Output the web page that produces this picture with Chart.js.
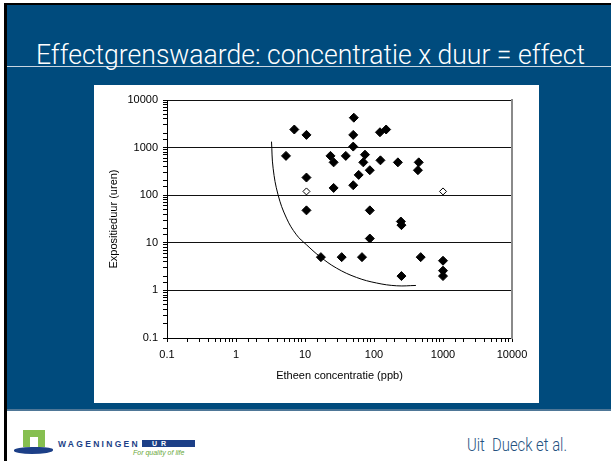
<!DOCTYPE html>
<html>
<head>
<meta charset="utf-8">
<script src="https://cdn.jsdelivr.net/npm/chart.js@4/dist/chart.umd.min.js"></script>
<style>
  html, body { margin: 0; padding: 0; width: 611px; height: 461px; overflow: hidden; background: #fff;
               font-family: "Liberation Sans", Arial, sans-serif; }
  .abs { position: absolute; }
  #frameTop  { left: 4px; top: 3px; width: 607px; height: 2px; background: #000; }
  #frameLeft { left: 4px; top: 3px; width: 3px; height: 458px; background: #000; }
  #slide { left: 7px; top: 5px; width: 604px; height: 405px; background: #004b7d; }
  #sep   { left: 7px; top: 409px; width: 604px; height: 2px; background: #4f7797; }
  #rule  { left: 7px; top: 66px; width: 604px; height: 1px; background: #c8d5e1; }
  #title { left: 36px; top: 41px; font-size: 28px; line-height: 28px; color: #fff; white-space: nowrap;
           transform-origin: 0 0; font-weight: 300;
           font-family: Roboto, "DejaVu Sans Condensed", "Liberation Sans", sans-serif; }
  #box   { left: 94px; top: 85px; width: 445px; height: 318px; background: #fff; }
  #source { left: 467px; top: 435px; font-size: 19px; line-height: 19px; color: #24527f; white-space: nowrap;
            transform-origin: 0 0; font-weight: 300;
            font-family: Roboto, "DejaVu Sans Condensed", "Liberation Sans", sans-serif; }
  /* logo */
  #sq    { left: 23px; top: 430px; width: 22px; height: 17px; background: #86bf50; }
  #door  { left: 30px; top: 437px; width: 8px; height: 10px; background: #fff; }
  #wave  { left: 14px; top: 447px; width: 39px; height: 7px; background: #1c3f87; border-radius: 50% 40% 60% 50%; }
  #wag   { left: 58px; top: 439px; font-size: 8.5px; font-weight: bold; letter-spacing: 2.3px; color: #1c3f87; }
  #ur    { left: 142px; top: 440px; width: 53px; height: 7px; background: #1c3f87; color: #fff; font-size: 7px;
           line-height: 7px; font-weight: bold; letter-spacing: 4px; text-indent: 10px; }
  #fql   { left: 133px; top: 449px; font-size: 7px; font-style: italic; color: #6aa83a; white-space: nowrap; }
</style>
</head>
<body>
<div class="abs" id="slide"></div>
<div class="abs" id="frameTop"></div>
<div class="abs" id="frameLeft"></div>
<div class="abs" id="sep"></div>
<div class="abs" id="rule"></div>
<div class="abs" id="title">Effectgrenswaarde: concentratie x duur = effect</div>
<div class="abs" id="box"><canvas id="chart" width="445" height="318"></canvas></div>
<div class="abs" id="sq"></div>
<div class="abs" id="door"></div>
<div class="abs" id="wave"></div>
<div class="abs" id="wag">WAGENINGEN</div>
<div class="abs" id="ur">UR</div>
<div class="abs" id="fql">For quality of life</div>
<div class="abs" id="source">Uit&nbsp; Dueck et al.</div>

<script>
// filled markers: ethene concentration (ppb) vs exposure duration (hours)
const concX = [5.3, 7, 10.5, 10.5, 10.5, 17, 23.4, 26, 26, 34, 39, 51, 50, 50, 50, 60, 67, 74, 70,
               87, 87, 87, 122, 150, 124, 222, 245, 250, 250, 445, 433, 475, 1000, 1000, 1000]
const durY  = [670, 2400, 1850, 235, 48, 5, 670, 490, 142, 5, 670, 4250, 1850, 1050, 162, 267, 5, 710, 490,
               335, 48, 12.3, 2100, 2400, 540, 490, 28, 23.5, 2, 490, 335, 5, 4.2, 2.6, 2]

// open markers
const openX = [10.5, 1000]
const openY = [120, 120]

// hand-drawn threshold curve
const curveX = [3.27, 3.45, 4.07, 5.39, 7.53, 10.5, 16.4, 28.6, 55.9, 109, 213, 405]
const curveY = [1334, 369, 102, 33, 14.7, 9.1, 5.16, 2.94, 1.87, 1.43, 1.25, 1.27]

const xTickLabels = ['0.1', '1', '10', '100', '1000', '10000']
const yTickLabels = ['0.1', '1', '10', '100', '1000', '10000']

const pts = (xs, ys) => xs.map((x, i) => ({ x, y: ys[i] }))

// index into the tick label arrays, -1 for minor ticks
const decade = v => {
  const l = Math.log10(v), r = Math.round(l)
  return Math.abs(l - r) < 1e-6 ? r + 1 : -1
}

Chart.defaults.font.family = "'Liberation Sans', Arial, sans-serif"
Chart.defaults.font.size = 11
Chart.defaults.color = '#000'

new Chart(document.getElementById('chart'), {
  type: 'scatter',
  data: {
    datasets: [
      { data: pts(concX, durY), pointStyle: 'rectRot', pointRadius: 4.5,
        backgroundColor: '#000', borderColor: '#000', borderWidth: 1 },
      { data: pts(openX, openY), pointStyle: 'rectRot', pointRadius: 3.5,
        backgroundColor: '#fff', borderColor: '#000', borderWidth: 1 },
      { type: 'line', data: pts(curveX, curveY), showLine: true, pointRadius: 0,
        borderColor: '#000', borderWidth: 1, tension: 0.4, fill: false },
    ],
  },
  options: {
    responsive: false, animation: false,
    layout: { padding: { left: 0, top: 15, right: 27, bottom: 0 } },
    plugins: { legend: { display: false }, tooltip: { enabled: false } },
    scales: {
      x: {
        type: 'logarithmic', min: 0.1, max: 10000,
        grid: { drawOnChartArea: false, tickColor: '#000', tickLength: 4 },
        border: { color: '#000', width: 1 },
        ticks: { autoSkip: false, maxRotation: 0, padding: 6,
                 callback: v => decade(v) >= 0 ? xTickLabels[decade(v)] : '' },
        title: { display: true, text: 'Etheen concentratie (ppb)', padding: { top: 0, bottom: 20 } },
        afterFit: s => { s.height = 65 },
      },
      y: {
        type: 'logarithmic', min: 0.1, max: 10000,
        grid: { color: c => c.tick && decade(c.tick.value) >= 0 ? '#111' : 'rgba(0,0,0,0)',
                tickColor: '#000', tickLength: 4 },
        border: { color: '#000', width: 1 },
        ticks: { autoSkip: false, padding: 5,
                 callback: v => decade(v) >= 0 ? yTickLabels[decade(v)] : '' },
        title: { display: true, text: 'Expositieduur (uren)', padding: { top: 13, bottom: 0 } },
        afterFit: s => { s.width = 73 },
      },
      y2: {
        type: 'logarithmic', position: 'right', min: 0.1, max: 10000,
        grid: { display: false, drawTicks: false },
        border: { color: '#8a8a8a', width: 2 },
        ticks: { display: false },
        afterFit: s => { s.width = 0 },
      },
    },
  },
})

// fit the condensed slide texts to the widths seen on the slide
const fit = (id, w) => {
  const el = document.getElementById(id)
  el.style.transform = `scaleX(${w / el.getBoundingClientRect().width})`
}
fit('title', 549)
fit('source', 100)
</script>
</body>
</html>
